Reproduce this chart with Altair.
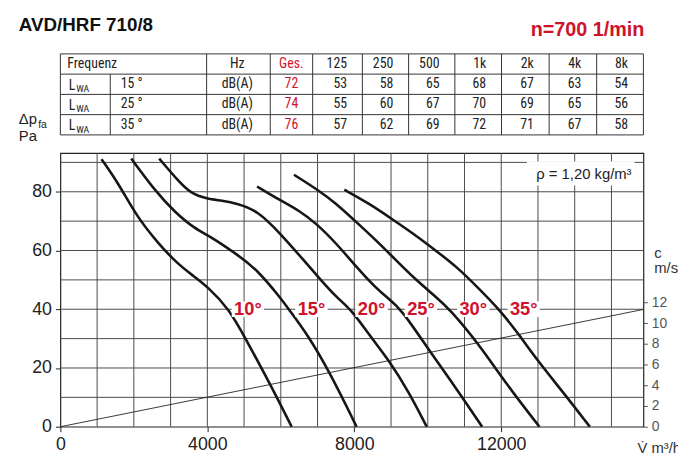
import altair as alt
import pandas as pd

# ------------------------------------------------------------------ data
title_text = "AVD/HRF 710/8"
speed_text = "n=700 1/min"
density_text = "ρ = 1,20 kg/m³"

bands = ["125", "250", "500", "1k", "2k", "4k", "8k"]
temps = ["15 °", "25 °", "35 °"]
ges = [72, 74, 76]
lwa_15 = [53, 58, 65, 68, 67, 63, 54]
lwa_25 = [55, 60, 67, 70, 69, 65, 56]
lwa_35 = [57, 62, 69, 72, 71, 67, 58]

angles = ["10°", "15°", "20°", "25°", "30°", "35°"]
c10_v = [1120, 1590, 2080, 2660, 3160, 3600, 3990, 4600, 5040, 5712, 6295]
c10_p = [91.1, 82.7, 71.5, 62.5, 55.8, 51.5, 47.9, 40.0, 30.0, 14.5, 0]
c15_v = [1930, 2574, 3112, 3650, 4098, 4816, 5354, 5981, 6215, 6720, 7326, 8063]
c15_p = [91.3, 80.4, 73.1, 67.5, 64.7, 58.6, 53.5, 44.0, 40.0, 31.5, 18.7, 0]
c20_v = [2690, 3200, 3560, 3990, 4400, 4816, 5354, 5981, 6609, 7100, 7520, 7910, 8420, 8940, 9478, 9972]
c20_p = [91.3, 83.8, 79.3, 77.6, 77.0, 76.0, 73.7, 65.9, 56.9, 49.8, 44.0, 40.0, 31.0, 22.7, 12.0, 0]
c25_v = [5354, 5981, 6500, 6968, 7506, 8044, 8582, 8940, 9282, 10062, 10770, 11480]
c25_p = [81.8, 77.1, 73.6, 69.2, 62.5, 54.6, 47.3, 43.5, 40.0, 25.5, 13.2, 0]
c30_v = [6358, 7003, 7506, 8000, 8582, 9120, 9659, 10196, 10600, 11361, 12200, 13040]
c30_p = [85.8, 80.7, 76.0, 70.3, 63.6, 56.9, 50.2, 44.5, 40.0, 28.6, 13.5, 0]
c35_v = [7730, 8402, 9004, 9659, 10196, 10823, 11361, 11945, 12483, 12976, 13700, 14412]
c35_p = [80.7, 76.0, 70.9, 65.3, 60.2, 54.1, 47.4, 40.0, 31.4, 22.7, 11.5, 0]
curve_v = [c10_v, c15_v, c20_v, c25_v, c30_v, c35_v]
curve_p = [c10_p, c15_p, c20_p, c25_p, c30_p, c35_p]

label_v = [5104, 6834, 8470, 9815, 11238, 12613]
label_p = [40, 40, 40, 40, 40, 40]

cline_v = [0, 15870]
cline_c = [0, 11.33]

x_ticks = [0, 4000, 8000, 12000]
y_ticks = [0, 20, 40, 60, 80]
c_ticks = [0, 2, 4, 6, 8, 10, 12]
v_grid = list(range(1000, 16000, 1000))
p_grid = list(range(10, 100, 10))

# ------------------------------------------------------------------ layout
W, H = 590, 277
PAD_L, PAD_T, PAD_R, PAD_B = 53, 144, 35, 36
X_MAX, Y_MAX, C_MAX = 15870, 93.2, 26.44
OX, OY = 8 + PAD_L, 8 + PAD_T          # page position of plot origin
RED = "#d0112b"
INK = "#222222"
SANS = "Liberation Sans, Arial, sans-serif"
NARROW = "Roboto Condensed, Liberation Sans Narrow, Arial Narrow, DejaVu Sans Condensed, sans-serif"

col_edges = [61, 111.5, 209, 273.4, 316.3, 366.6, 413.4, 460.2, 507.4, 555.6, 603.7, 651]
row_edges = [51.7, 72.2, 92.7, 113.2, 133.7]
row_mid = [(row_edges[i] + row_edges[i + 1]) / 2 for i in range(4)]

xs = alt.Scale(domain=[0, X_MAX], nice=False, zero=False)
ys = alt.Scale(domain=[0, Y_MAX], nice=False, zero=False)
cs = alt.Scale(domain=[0, C_MAX], nice=False, zero=False)
sx = alt.Scale(domain=[0, 686], range=[-OX, 686 - OX], nice=False, zero=False)
sy = alt.Scale(domain=[0, 474], range=[-OY, 474 - OY], nice=False, zero=False)

x_axis = alt.Axis(values=x_ticks, format="d", grid=False, domain=False, tickSize=5,
                  tickColor=INK, tickWidth=1, labelFontSize=18, labelColor=INK,
                  labelFont=SANS, labelPadding=4, title=None, labelFlush=False,
                  labelOverlap=False)
y_axis = alt.Axis(values=y_ticks, format="d", grid=False, domain=False, tickSize=5,
                  tickColor=INK, tickWidth=1, labelFontSize=18, labelColor=INK,
                  labelFont=SANS, labelPadding=4, title=None, labelOverlap=False)
c_axis = alt.Axis(values=c_ticks, format="d", orient="right", grid=False, domain=False,
                  tickSize=4, tickColor="#555", labelFontSize=14, labelColor="#555",
                  labelFont=SANS, labelPadding=4, title=None, labelOverlap=False,
                  labelFlush=False)

X = lambda f: alt.X(f, scale=xs, axis=x_axis)
Y = lambda f: alt.Y(f, scale=ys, axis=y_axis)

# ------------------------------------------------------------------ main plot
vgrid = alt.Chart(pd.DataFrame({"v": v_grid})).mark_rule(
    color="#4a4a4a", strokeWidth=1).encode(x=X("v:Q"))
hgrid = alt.Chart(pd.DataFrame({"p": p_grid})).mark_rule(
    color="#4a4a4a", strokeWidth=1).encode(y=Y("p:Q"))

curve_rows = []
for a, vv, pp in zip(angles, curve_v, curve_p):
    for v, p in zip(vv, pp):
        curve_rows.append({"angle": a, "v": v, "p": p})
curves = alt.Chart(pd.DataFrame(curve_rows)).mark_line(
    color="#161616", strokeWidth=2.6, interpolate="basis").encode(
    x=X("v:Q"), y=Y("p:Q"), detail="angle:N")

labels_df = pd.DataFrame({"angle": angles, "v": label_v, "p": label_p})
boxes = alt.Chart(labels_df).transform_calculate(
    v1="datum.v - 440", v2="datum.v + 440", p1="datum.p - 2.6", p2="datum.p + 2.6"
).mark_rect(color="white").encode(x=X("v1:Q"), x2="v2:Q", y=Y("p1:Q"), y2="p2:Q")
labels = alt.Chart(labels_df).mark_text(
    color=RED, fontWeight="bold", fontSize=18.5, font=SANS, align="center",
    baseline="middle").encode(x=X("v:Q"), y=Y("p:Q"), text="angle:N")

main = alt.layer(vgrid, hgrid, curves, boxes, labels)

cline = alt.Chart(pd.DataFrame({"v": cline_v, "c": cline_c})).mark_line(
    color="#222", strokeWidth=0.9).encode(
    x=alt.X("v:Q", scale=xs, axis=None), y=alt.Y("c:Q", scale=cs, axis=c_axis))

# ------------------------------------------------------------------ overlay (page pixels)
PX = lambda f: alt.X(f, scale=sx, axis=None)
PY = lambda f: alt.Y(f, scale=sy, axis=None)

rules = []
for y in row_edges:
    rules.append({"x1": col_edges[0], "x2": col_edges[-1], "y1": y, "y2": y})
for i, x in enumerate(col_edges):
    rules.append({"x1": x, "x2": x, "y1": row_edges[1] if i == 1 else row_edges[0], "y2": row_edges[-1]})
table_lines = alt.Chart(pd.DataFrame(rules)).mark_rule(color="#333", strokeWidth=1).encode(
    x=PX("x1:Q"), x2="x2:Q", y=PY("y1:Q"), y2="y2:Q")


def text_layer(rows, **kw):
    base = dict(font=NARROW, fontSize=14, color=INK, baseline="middle", align="left")
    base.update(kw)
    return alt.Chart(pd.DataFrame(rows)).mark_text(**base).encode(
        x=PX("px:Q"), y=PY("py:Q"), text="t:N")


left_rows = [{"t": "Frequenz", "px": 68, "py": row_mid[0]}]
l_rows, wa_rows = [], []
for i, t in enumerate(temps):
    left_rows.append({"t": t, "px": 122, "py": row_mid[i + 1]})
    l_rows.append({"t": "L", "px": 69.5, "py": row_mid[i + 1] + 5.5})
    wa_rows.append({"t": "WA", "px": 77, "py": row_mid[i + 1] + 8})
center_rows = [{"t": "Hz", "px": 240, "py": row_mid[0]}] + [
    {"t": "dB(A)", "px": 240, "py": row_mid[i + 1]} for i in range(3)]
red_rows = [{"t": "Ges.", "px": 294.8, "py": row_mid[0]}] + [
    {"t": str(g), "px": 294.8, "py": row_mid[i + 1]} for i, g in enumerate(ges)]
right_rows = []
for j, b in enumerate(bands):
    xr = col_edges[j + 5] - 15.5
    right_rows.append({"t": b, "px": xr, "py": row_mid[0]})
    for i, vals in enumerate([lwa_15, lwa_25, lwa_35]):
        right_rows.append({"t": str(vals[j]), "px": xr, "py": row_mid[i + 1]})

t_left = text_layer(left_rows)
t_l = text_layer(l_rows, baseline="alphabetic")
t_wa = text_layer(wa_rows, baseline="alphabetic", fontSize=10)
t_center = text_layer(center_rows, align="center")
t_red = text_layer(red_rows, align="center", color=RED)
t_right = text_layer(right_rows, align="right")

t_title = text_layer([{"t": title_text, "px": 19, "py": 28.5}], font=SANS, fontSize=19,
                     fontWeight="bold", baseline="alphabetic", color="#111")
t_speed = text_layer([{"t": speed_text, "px": 652, "py": 33.5}], font=SANS, fontSize=20,
                     fontWeight="bold", baseline="alphabetic", align="right", color=RED)
t_dp = text_layer([{"t": "Δp", "px": 19, "py": 123}, {"t": "Pa", "px": 19, "py": 140}],
                  font=SANS, fontSize=15, baseline="alphabetic")
t_fa = text_layer([{"t": "fa", "px": 38.5, "py": 127}], font=SANS, fontSize=10.5,
                  baseline="alphabetic")
rho_box = alt.Chart(pd.DataFrame([{"x1": 533, "x2": 642, "y1": 160.5, "y2": 185}])).mark_rect(
    color="white").encode(x=PX("x1:Q"), x2="x2:Q", y=PY("y1:Q"), y2="y2:Q")
t_rho = text_layer([{"t": density_text, "px": 639, "py": 178}], font=SANS, fontSize=15,
                   baseline="alphabetic", align="right")
t_c = text_layer([{"t": "c", "px": 662, "py": 258}, {"t": "m/s", "px": 662, "py": 273}],
                 font=SANS, fontSize=15, baseline="alphabetic", color="#333")
t_v = text_layer([{"t": "V̇ m³/h", "px": 645, "py": 456}], font=SANS, fontSize=15,
                 baseline="alphabetic", color="#333")

overlay = alt.layer(table_lines, t_left, t_l, t_wa, t_center, t_red, t_right,
                    t_title, t_speed, t_dp, t_fa, rho_box, t_rho, t_c, t_v)

chart = alt.layer(main, cline, overlay).resolve_scale(
    x="independent", y="independent"
).properties(
    width=W, height=H,
    padding={"left": PAD_L, "top": PAD_T, "right": PAD_R, "bottom": PAD_B},
    autosize=alt.AutoSizeParams(type="none"),
    background="white",
).configure_view(stroke="#222", strokeWidth=1.2)

chart.save("out.html", embed_options={"renderer": "svg", "actions": False})
